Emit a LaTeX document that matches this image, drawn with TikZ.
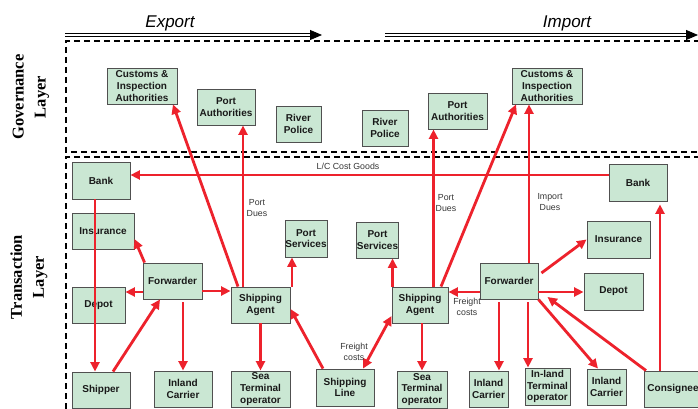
\documentclass[tikz,border=0pt]{standalone}
\usepackage{fontspec}
\setsansfont{Liberation Sans}
\newfontfamily\layerfont{Liberation Serif}
\usetikzlibrary{arrows.meta}
\definecolor{boxfill}{RGB}{202,231,211}
\definecolor{boxline}{RGB}{80,80,80}
\definecolor{flowred}{RGB}{237,34,44}
\definecolor{labelgray}{RGB}{55,55,55}

\begin{document}
\begin{tikzpicture}[x=1pt,y=-1pt,
  box/.style={draw=boxline, fill=boxfill, line width=0.9pt, align=center, inner sep=0pt,
    font=\sffamily\bfseries\fontsize{10}{11.6}\selectfont, text=black!90},
  link/.style={draw=flowred, line width=2.8pt, -{Triangle[length=9.5pt,width=9pt]}},
  twolink/.style={draw=flowred, line width=2.8pt, {Triangle[length=9.5pt,width=9pt]}-{Triangle[length=9.5pt,width=9pt]}},
  lbl/.style={font=\sffamily\fontsize{8.8}{10.5}\selectfont, text=labelgray, align=center, inner sep=0pt},
  layerlbl/.style={font=\layerfont\bfseries\fontsize{16.5}{22}\selectfont, align=center, rotate=90, inner sep=0pt},
  dirlbl/.style={font=\sffamily\itshape\fontsize{17}{20}\selectfont, inner sep=0pt},
  flow/.style={draw=black, double=white, double distance=1.6pt, line width=0.8pt,
    -{Triangle[length=12pt,width=10pt]}},
  layerbox/.style={draw=black, line width=1.6pt, dash pattern=on 6pt off 4pt}
]
\useasboundingbox (0,0) rectangle (698,409);
\clip (0,0) rectangle (698,409);
\fill[white] (0,0) rectangle (698,409);

% direction arrows
\coordinate (exS) at (65,35);
\coordinate (exE) at (322,35);
\coordinate (imS) at (385,35);
\coordinate (imE) at (698,35);
\draw[flow] (exS) -- (exE);
\draw[flow] (imS) -- (imE);
\node[dirlbl] (export) at (170,23) {Export};
\node[dirlbl] (import) at (567,23) {Import};

% layer frames
\draw[layerbox] (720,41) -- (66,41) -- (66,152) -- (720,152);
\draw[layerbox] (720,157) -- (66,157) -- (66,430);
\node[layerlbl] (govlbl) at (31,97) {Governance\\Layer};
\node[layerlbl] (trlbl) at (29,277) {Transaction\\Layer};

% governance layer
\node[box, minimum width=70, minimum height=36] (custL) at (142,86) {Customs \&\\Inspection\\Authorities};
\node[box, minimum width=58, minimum height=36] (portAL) at (226,107) {Port\\Authorities};
\node[box, minimum width=45, minimum height=36] (riverL) at (298.5,124) {River\\Police};
\node[box, minimum width=46, minimum height=36] (riverR) at (385,128) {River\\Police};
\node[box, minimum width=59, minimum height=36] (portAR) at (457.5,111) {Port\\Authorities};
\node[box, minimum width=70, minimum height=36] (custR) at (547,86) {Customs \&\\Inspection\\Authorities};

% transaction layer, export side
\node[box, minimum width=58, minimum height=37] (bankL) at (101,180.5) {Bank};
\node[box, minimum width=62, minimum height=36] (insL) at (103,231) {Insurance};
\node[box, minimum width=42, minimum height=37] (psL) at (306,238.5) {Port\\Services};
\node[box, minimum width=59, minimum height=36] (fwdL) at (172.5,281) {Forwarder};
\node[box, minimum width=53, minimum height=36] (depotL) at (98.5,305) {Depot};
\node[box, minimum width=59, minimum height=36] (saL) at (260.5,305) {Shipping\\Agent};
\node[box, minimum width=58, minimum height=36] (shipper) at (101,390) {Shipper};
\node[box, minimum width=58, minimum height=36] (icL) at (183,389) {Inland\\Carrier};
\node[box, minimum width=59, minimum height=36] (stL) at (260.5,389) {Sea\\Terminal\\operator};
\node[box, minimum width=58, minimum height=37] (sline) at (345,387.5) {Shipping\\Line};

% transaction layer, import side
\node[box, minimum width=56, minimum height=36] (saR) at (420,305) {Shipping\\Agent};
\node[box, minimum width=50, minimum height=37] (stR) at (422,389.5) {Sea\\Terminal\\operator};
\node[box, minimum width=41, minimum height=36] (psR) at (377.5,240) {Port\\Services};
\node[box, minimum width=58, minimum height=36] (fwdR) at (509,281) {Forwarder};
\node[box, minimum width=59, minimum height=37] (depotR) at (613.5,291.5) {Depot};
\node[box, minimum width=63, minimum height=37] (insR) at (618.5,239.5) {Insurance};
\node[box, minimum width=58, minimum height=37] (bankR) at (638,182.5) {Bank};
\node[box, minimum width=39, minimum height=36] (ic1R) at (488.5,389) {Inland\\Carrier};
\node[box, minimum width=45, minimum height=37] (itoR) at (547.5,386.5) {In-land\\Terminal\\operator};
\node[box, minimum width=39, minimum height=36] (ic2R) at (606.5,387) {Inland\\Carrier};
\node[box, minimum width=58, minimum height=36] (consignee) at (673,389) {Consignee};

% payment of goods
\draw[link] ([yshift=7.5pt]bankR.west) -- ([yshift=7.5pt]bankR.west -| bankL.east);
\node[lbl] (lc) at (348,166) {L/C Cost Goods};

% export flows
\draw[link] ([xshift=-6pt]bankL.south) -- ([xshift=-6pt]bankL.south |- shipper.north);
\draw[link] ([xshift=2pt]fwdL.north west) -- ([yshift=-8pt]insL.east);
\draw[link] ([yshift=-11pt]fwdL.west) -- ([yshift=-11pt]fwdL.west -| depotL.east);
\draw[link] ([yshift=-10pt]fwdL.east) -- ([yshift=-10pt]fwdL.east -| saL.west);
\draw[link] ([xshift=12pt]shipper.north) -- ([xshift=-12.5pt]fwdL.south);
\draw[link, shorten <=3pt] ([xshift=10.5pt]fwdL.south) -- ([xshift=10.5pt]fwdL.south |- icL.north);
\draw[link] (saL.south) -- (saL.south |- stL.north);
\draw[link] ([xshift=-22pt]sline.north) -- ([yshift=-4pt]saL.east);
\draw[link] ([xshift=1.5pt]saL.north east) -- ([xshift=1.5pt]saL.north east |- psL.south);
\draw[link] ([xshift=-17.5pt]saL.north) -- ([xshift=-17.5pt]saL.north |- portAL.south);
\node[lbl] (duesL) at (257,208) {Port\\Dues};
\draw[link] ([xshift=-22.5pt]saL.north) -- ([xshift=31pt]custL.south);

% import flows
\draw[twolink] ([xshift=18pt]sline.north) -- ([yshift=-11pt]saR.west);
\node[lbl] (frL) at (354,352) {Freight\\costs};
\draw[link] ([xshift=2pt]saR.south) -- ([xshift=2pt]saR.south |- stR.north);
\draw[link] ([xshift=1pt]saR.north west) -- ([xshift=1pt]saR.north west |- psR.south);
\draw[link] ([xshift=13.5pt]saR.north) -- ([xshift=13.5pt]saR.north |- portAR.south);
\node[lbl] (duesR) at (446,203) {Port\\Dues};
\draw[link] ([xshift=21pt]saR.north) -- ([xshift=-31pt]custR.south);
\draw[link] ([xshift=20pt]fwdR.north) -- ([xshift=20pt]fwdR.north |- custR.south);
\node[lbl] (impdues) at (550,202) {Import\\Dues};
\draw[link] ([yshift=-11pt]fwdR.west) -- ([yshift=-11pt]fwdR.west -| saR.east);
\node[lbl] (frR) at (467,307) {Freight\\costs};
\draw[link] ([xshift=3pt,yshift=8pt]fwdR.east) -- (insR.west);
\draw[link] ([yshift=-11pt]fwdR.east) -- ([yshift=-11pt]fwdR.east -| depotR.west);
\draw[link, shorten <=3pt] ([xshift=-10pt]fwdR.south) -- ([xshift=-10pt]fwdR.south |- ic1R.north);
\draw[link, shorten <=3pt] ([xshift=19pt]fwdR.south) -- ([xshift=19pt]fwdR.south |- itoR.north);
\draw[link] (fwdR.south east) -- ([xshift=-8.5pt]ic2R.north);
\draw[link] ([xshift=-27pt]consignee.north) -- ([xshift=9pt,yshift=-16pt]fwdR.east);
\draw[link, shorten >=3pt] ([xshift=-13pt]consignee.north) -- ([xshift=-13pt]consignee.north |- bankR.south);
\end{tikzpicture}
\end{document}
